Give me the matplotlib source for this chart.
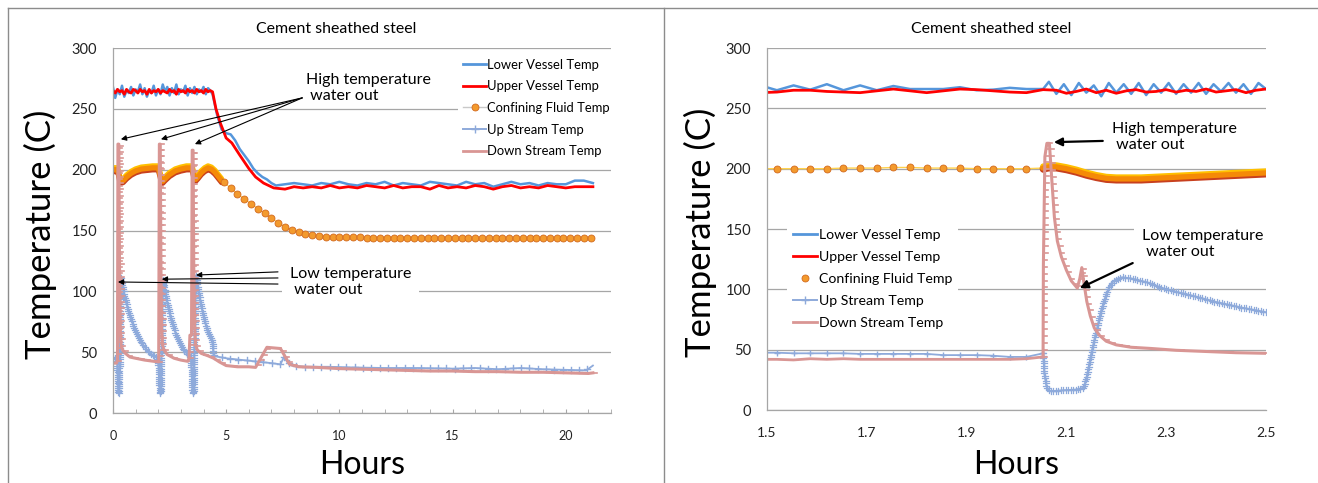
import numpy as np
import matplotlib.pyplot as plt
import matplotlib.patheffects as pe
from matplotlib.lines import Line2D
from matplotlib.markers import MarkerStyle
from matplotlib.path import Path
from matplotlib.ticker import MultipleLocator
from matplotlib.transforms import IdentityTransform

plt.rcParams['font.family'] = ['Lato', 'DejaVu Sans']

TITLE = "Cement sheathed steel"
LABELS = ["Lower Vessel Temp", "Upper Vessel Temp", "Confining Fluid Temp",
          "Up Stream Temp", "Down Stream Temp"]

C_LV = '#5596DB'
C_UV = '#FF0000'
C_CF = '#F39A2D'
C_US = '#8EAADB'
C_DS = '#D99694'
C_GRID = '#A6A6A6'


def on_grid(start, step, temps):
    return start + step * np.arange(len(temps))


# ---------------- whole run, 0-21 h ----------------
# vessel temps logged every 0.1 h while held near 265 C
lv_hold = [268, 259, 266, 262, 269, 260, 265, 263, 268, 261,
           266, 264, 270, 262, 267, 260, 265, 263, 269, 261,
           266, 262, 270, 264, 268, 261, 267, 263, 270, 262,
           266, 264, 269, 261, 267, 263, 268, 262, 266, 264,
           268, 262, 267, 265]
uv_hold = [265, 263, 266, 264, 265, 262, 266, 264, 263, 266,
           265, 263, 266, 264, 265, 262, 266, 263, 265, 264,
           266, 263, 265, 264, 263, 266, 264, 265, 262, 266,
           264, 265, 263, 266, 264, 265, 263, 266, 264, 265,
           263, 266, 264, 265]

# cool-down of the vessel
lv_cool_h = [4.4, 4.6, 4.8, 5.0, 5.2, 5.4, 5.6, 5.8, 6.0, 6.2, 6.4, 6.6, 6.8, 7.0, 7.2]
lv_cool_t = [262, 245, 233, 230, 229, 224, 217, 212, 207, 201, 197, 194, 192, 189, 187]
uv_cool_h = [4.4, 4.55, 4.75, 5.0, 5.25, 5.6, 6.0, 6.3, 6.65, 7.1]
uv_cool_t = [264, 250, 238, 226, 222, 212, 201, 194, 189, 185]

# settled vessel temps, every 0.4 h from 7.6 h
lv_tail = [188, 189, 188, 187, 189, 188, 190, 188, 187, 189, 188, 190, 187, 189, 188,
           187, 190, 189, 188, 187, 190, 188, 189, 186, 188, 190, 188, 189, 187, 189,
           188, 188, 191, 191, 189]
uv_tail = [184, 186, 185, 186, 185, 187, 185, 186, 185, 187, 186, 185, 187, 185, 186,
           186, 184, 187, 185, 186, 185, 187, 186, 184, 186, 187, 185, 186, 185, 187,
           186, 185, 186, 186, 186]

# confining fluid: fast logging during the three flushes, then every 0.3 h
cf_fast_h = [0.0, 0.1, 0.2, 0.25, 0.3, 0.35, 0.45, 0.6, 0.8, 1.0, 1.25, 1.5, 1.75, 2.0,
             2.08, 2.14, 2.2, 2.3, 2.5, 2.75, 3.0, 3.25, 3.5, 3.55, 3.6, 3.65, 3.75, 3.9,
             4.05, 4.2, 4.35, 4.5, 4.65, 4.8]
cf_fast_t = [200, 200, 200, 197, 192, 190.5, 191, 194, 197, 199, 200.5, 201, 201.5, 201.5,
             196, 191, 190.5, 192.5, 196, 199, 200.5, 201.5, 201.5, 197, 193, 192, 194, 197.5,
             200, 201.5, 200.5, 198, 194.5, 191]
cf_slow = [189.5, 185, 180, 176, 172, 168, 164, 160, 156.5, 153, 150.5, 148.5, 147, 146,
           145.5, 145, 145, 144.5, 144.5, 144.5, 144.5, 144, 144, 144, 144, 144, 144, 144,
           144, 144, 144, 144, 143.5, 144, 143.5, 143.5, 143.5, 143.5, 143.5, 143.5, 143.5,
           143.5, 143.5, 143.5, 143.5, 143.5, 143.5, 143.5, 143.5, 143.5, 143.5, 143.5,
           143.5, 143.5, 143.5]

us_h = [0.0, 0.1, 0.18, 0.21, 0.24, 0.27, 0.3, 0.33, 0.38, 0.5,
        0.65, 0.8, 1.0, 1.2, 1.4, 1.6, 1.8, 1.97, 2.0, 2.03,
        2.07, 2.11, 2.15, 2.2, 2.3, 2.45, 2.6, 2.8, 3.0, 3.2,
        3.4, 3.45, 3.48, 3.52, 3.56, 3.6, 3.66, 3.75, 3.9, 4.05,
        4.2, 4.38, 4.45, 4.7, 5.0, 5.5, 6.0, 6.5, 7.0, 7.4,
        7.55, 7.7, 7.9, 8.5, 9.5, 10.5, 12.0, 13.5, 15.0, 16.0,
        17.0, 18.0, 19.0, 20.0, 20.9, 21.05, 21.2]
us_t = [44, 45, 46, 30, 17, 16, 50, 112, 108, 97,
        86, 77, 67, 60, 54, 50, 47, 45, 44, 30,
        16, 17, 55, 110, 99, 86, 75, 64, 56, 50,
        47, 46, 30, 16, 17, 60, 113, 103, 88, 76,
        66, 61, 47, 46, 45, 44, 43, 42, 41, 40,
        46, 42, 39, 38, 38, 37.5, 37, 37, 36.5, 37,
        36, 37, 36, 35.5, 35, 37, 39]

ds_h = [0.0, 0.15, 0.2, 0.22, 0.26, 0.29, 0.32, 0.36, 0.42, 0.55,
        0.75, 1.0, 1.4, 1.8, 2.02, 2.05, 2.09, 2.12, 2.15, 2.19,
        2.25, 2.4, 2.7, 3.0, 3.3, 3.36, 3.4, 3.47, 3.5, 3.54,
        3.57, 3.61, 3.65, 3.72, 3.9, 4.2, 4.45, 4.7, 5.0, 5.5,
        6.0, 6.3, 6.8, 7.4, 7.8, 8.2, 9.0, 10.0, 11.0, 12.0,
        13.0, 14.0, 15.0, 16.0, 17.0, 18.0, 19.0, 20.0, 21.0, 21.2]
ds_t = [41, 41, 43, 221, 221, 120, 70, 56, 52, 49,
        46, 45, 43.5, 42.5, 42, 221, 221, 120, 70, 56,
        52, 48, 45, 43.5, 42.5, 45, 64, 64, 216, 216,
        120, 70, 56, 52, 49, 47, 45, 42, 39, 38,
        38, 37.5, 54, 53, 40, 38, 37.5, 36.5, 36, 35.5,
        35, 34.5, 34.5, 34, 34, 33.5, 33.5, 33, 32.5, 33]

# ---------------- close-up of the second flush, 1.5-2.5 h ----------------
# 2-minute logging up to the flush
slow_start, slow_step = 1.4867, 1 / 30
lv_r_slow = [269, 265, 269, 265.5, 270, 265, 269, 265, 268.5, 266, 266, 266, 267.5, 265,
             265.5, 267, 266, 266]
uv_r_slow = [263, 263.5, 265, 265, 264, 263.5, 263, 264.5, 266, 264.5, 263, 264.5, 266,
             265.5, 264.5, 263.5, 263, 265.5]
cf_r_slow = [200, 200, 200, 200, 200, 200.5, 200.5, 200.5, 201, 201, 200.5, 200.5, 200.5,
             200, 200, 200, 200, 200.5]
us_r_slow = [47.5, 47.5, 47, 47, 47, 47, 46.5, 46.5, 46.5, 46.5, 46.5, 45.5, 45.5, 45.5,
             45, 44, 44, 47]
ds_r_slow = [42, 42, 41.5, 42.5, 42, 42.5, 42, 42, 42, 42, 42, 42, 42, 42, 42, 42, 42.5, 44]

# fast logging after the flush
lv_r_fast = [272, 262, 270, 261, 271, 263, 269, 260, 271, 263, 270, 262, 271, 261, 270,
             263, 271, 262, 270, 263, 271, 262, 270, 264, 271, 263, 270, 262, 271, 266]
uv_r_fast = [265, 262.5, 264, 266, 263, 265, 262.5, 264.5, 265.5, 263.5, 264, 265.5,
             263.5, 265, 264, 266, 263.5, 264.5, 265.5, 263, 265, 266]
cf_r_fast_h = [2.053, 2.065, 2.08, 2.1, 2.12, 2.14, 2.16, 2.18, 2.2, 2.22, 2.25, 2.3,
               2.35, 2.4, 2.45, 2.5]
cf_r_fast_t = [200.5, 201.5, 201.5, 200, 198, 195.5, 193.5, 192, 191.5, 191.5, 191.5,
               192.5, 193.5, 194.5, 195.5, 196.5]
us_r_fast_h = [2.056, 2.06, 2.065, 2.07, 2.08, 2.1, 2.12, 2.135, 2.142, 2.15, 2.16, 2.17,
               2.18, 2.19, 2.2, 2.212, 2.23, 2.26, 2.3, 2.35, 2.4, 2.45, 2.5]
us_r_fast_t = [30, 20, 16, 15.5, 16, 16.5, 17, 18.5, 30, 47, 65, 83,
               96, 105, 108.5, 110, 109, 106, 100, 95, 89.5, 85, 81]
ds_r_fast_h = [2.054, 2.057, 2.061, 2.066, 2.071, 2.076, 2.082, 2.09, 2.1, 2.11, 2.122,
               2.127, 2.131, 2.135, 2.141, 2.148, 2.156, 2.166, 2.18, 2.2, 2.23, 2.27,
               2.32, 2.38, 2.44, 2.5]
ds_r_fast_t = [120, 210, 221, 221, 190, 160, 140, 127, 116, 107, 101,
               109, 118, 106, 90, 78, 68, 62, 57, 54, 52, 51,
               49.5, 48.5, 47.5, 47]


class MarkersAlong(pe.AbstractPathEffect):
    """Draw the line, then repeat a marker every `spacing` points along it."""

    def __init__(self, marker, spacing, size, color, lw=1.0):
        super().__init__()
        self.marker = MarkerStyle(marker)
        self.spacing = spacing
        self.size = size
        self.color = color
        self.lw = lw

    def draw_path(self, renderer, gc, tpath, affine, rgbFace=None):
        renderer.draw_path(gc, tpath, affine, rgbFace)
        xy = affine.transform(tpath.vertices)
        dist = np.r_[0, np.cumsum(np.hypot(*np.diff(xy, axis=0).T))]
        s = np.arange(0, dist[-1], renderer.points_to_pixels(self.spacing))
        pts = np.c_[np.interp(s, dist, xy[:, 0]), np.interp(s, dist, xy[:, 1])]
        gc0 = renderer.new_gc()
        gc0.copy_properties(gc)
        gc0.set_foreground(self.color)
        gc0.set_linewidth(self.lw)
        mtrans = self.marker.get_transform().frozen().scale(
            renderer.points_to_pixels(self.size))
        renderer.draw_markers(gc0, self.marker.get_path(), mtrans, Path(pts),
                              IdentityTransform())
        gc0.restore()


# short dash sticking out to the right of the line
DASH = Path([[0, 0], [1, 0]])

band_fx = [pe.Stroke(linewidth=3.8, foreground='#FFC000', offset=(0, 1.4)),
           pe.Stroke(linewidth=3.8, foreground='#C8401E', offset=(0, -1.4)),
           pe.Normal()]
dot_style = dict(marker='o', ms=5, mfc=C_CF, mec='#D2691E', mew=0.6)
up_style = dict(color=C_US, lw=1.3)
down_style = dict(color=C_DS, lw=2.2)


def split_at(hours, temps, cut):
    # two overlapping pieces so each can get its own marker spacing
    h, t = np.asarray(hours), np.asarray(temps)
    i = np.searchsorted(h, cut)
    return (h[:i + 1], t[:i + 1]), (h[i:], t[i:])


def style_axes(ax, xlim, xticks, xtick_size):
    ax.set_xlim(*xlim)
    ax.set_ylim(0, 300)
    ax.set_xticks(xticks)
    ax.set_yticks(range(0, 301, 50))
    ax.grid(axis='y', color=C_GRID, lw=0.9)
    ax.set_axisbelow(True)
    for side in ('top', 'right'):
        ax.spines[side].set_visible(False)
    for side in ('left', 'bottom'):
        ax.spines[side].set_color(C_GRID)
        ax.spines[side].set_linewidth(0.9)
    ax.tick_params(axis='y', length=0, pad=11.5, labelsize=10.5, labelcolor='#222222')
    ax.tick_params(axis='x', labelsize=xtick_size, labelcolor='#222222', pad=12)
    ax.set_title(TITLE, fontsize=11.4, x=0.449, pad=11)
    ax.set_xlabel('Hours', fontsize=23)
    ax.set_ylabel('Temperature (C)', fontsize=25)


def legend_handles(cf_line):
    cf = Line2D([], [], color='#C9C9C9' if cf_line else 'none', lw=1, **dot_style)
    return [Line2D([], [], color=C_LV, lw=2),
            Line2D([], [], color=C_UV, lw=2),
            cf,
            Line2D([], [], color=C_US, lw=1.4, marker='+', ms=6, mew=1),
            Line2D([], [], color=C_DS, lw=2)]


def add_legend(ax, cf_line, anchor, size, spacing):
    ax.legend(legend_handles(cf_line), LABELS, loc='upper left', bbox_to_anchor=anchor,
              borderaxespad=0, borderpad=0.4, fontsize=size, handlelength=1.75,
              handletextpad=0.1, labelspacing=spacing, numpoints=1, frameon=True,
              facecolor='white', edgecolor='none', framealpha=1, fancybox=False)


fig = plt.figure(figsize=(13.18, 4.83), dpi=100)
ax1 = fig.add_axes([0.0857, 0.1449, 0.3779, 0.7557])
ax2 = fig.add_axes([0.5819, 0.1511, 0.3786, 0.7495])

# ---- left: whole run ----
lv_h = np.r_[on_grid(0.0, 0.1, lv_hold), lv_cool_h, on_grid(7.6, 0.4, lv_tail)]
lv_t = np.r_[lv_hold, lv_cool_t, lv_tail]
uv_h = np.r_[on_grid(0.0, 0.1, uv_hold), uv_cool_h, on_grid(7.6, 0.4, uv_tail)]
uv_t = np.r_[uv_hold, uv_cool_t, uv_tail]
cf_slow_h = on_grid(4.9, 0.3, cf_slow)

ax1.plot(lv_h, lv_t, color=C_LV, lw=1.8)
ax1.plot(uv_h, uv_t, color=C_UV, lw=2)
ax1.plot(cf_fast_h, cf_fast_t, color='#F58A07', lw=3.8, solid_capstyle='round',
         path_effects=band_fx)
ax1.plot(np.r_[cf_fast_h[-1], cf_slow_h], np.r_[cf_fast_t[-1], cf_slow],
         color='#FFD24D', lw=0.8, markevery=slice(1, None), **dot_style)

(us_a, us_b) = split_at(us_h, us_t, 4.45)
ax1.plot(*us_a, path_effects=[MarkersAlong('+', 1.6, 4.5, C_US, 0.9)], **up_style)
ax1.plot(*us_b, path_effects=[MarkersAlong('+', 6.0, 5.0, C_US, 1.0)], **up_style)
ax1.plot(ds_h, ds_t, path_effects=[MarkersAlong(DASH, 4.5, 5.5, C_DS, 1.2)], **down_style)

style_axes(ax1, (0, 22), range(0, 21, 5), 9)
ax1.xaxis.set_minor_locator(MultipleLocator(1))
ax1.tick_params(axis='x', which='both', direction='in', length=3, color=C_GRID)
ax1.yaxis.set_label_coords(-0.112, 0.49)
ax1.xaxis.set_label_coords(0.5, -0.101)
add_legend(ax1, True, (0.693, 0.985), 9.4, 0.74)

thin_arrow = dict(arrowstyle='-|>', color='black', lw=0.8, mutation_scale=8,
                  shrinkA=0, shrinkB=0)
ax1.text(8.53, 267, 'High temperature\n water out', fontsize=11.5, ha='left',
         va='center', linespacing=1.15)
for head in [(0.35, 225), (2.12, 225), (3.62, 221)]:
    ax1.annotate('', xy=head, xytext=(8.36, 259), arrowprops=thin_arrow)
ax1.text(7.82, 107.7, 'Low temperature\n water out', fontsize=11.5, ha='left',
         va='center', linespacing=1.15, zorder=4,
         bbox=dict(boxstyle='square,pad=0.5', fc='white', ec='none'))
for tail, head in [((7.29, 116), (3.67, 113.4)), ((7.29, 111), (2.16, 110)),
                   ((7.29, 106), (0.22, 107.7))]:
    ax1.annotate('', xy=head, xytext=tail, arrowprops=thin_arrow, zorder=5)

# ---- right: close-up ----
slow_h = on_grid(slow_start, slow_step, lv_r_slow)
lv_r_h = np.r_[slow_h, on_grid(2.065, 0.015, lv_r_fast)]
uv_r_h = np.r_[slow_h, on_grid(2.08, 0.02, uv_r_fast)]

ax2.plot(lv_r_h, np.r_[lv_r_slow, lv_r_fast], color=C_LV, lw=1.8)
ax2.plot(uv_r_h, np.r_[uv_r_slow, uv_r_fast], color=C_UV, lw=2)
ax2.plot(slow_h, cf_r_slow, color='#FFD24D', lw=1, **dot_style)
ax2.plot(cf_r_fast_h, cf_r_fast_t, color='#F58A07', lw=3.8, solid_capstyle='round',
         path_effects=band_fx)
ax2.plot(slow_h, us_r_slow, marker='+', ms=5, mew=1, **up_style)
ax2.plot(np.r_[slow_h[-1], us_r_fast_h], np.r_[us_r_slow[-1], us_r_fast_t],
         path_effects=[MarkersAlong('+', 1.8, 4.5, C_US, 0.9)], **up_style)
ax2.plot(slow_h, ds_r_slow, color=C_DS, lw=2)
ax2.plot(np.r_[slow_h[-1], ds_r_fast_h], np.r_[ds_r_slow[-1], ds_r_fast_t],
         path_effects=[MarkersAlong(DASH, 5.0, 5.5, C_DS, 1.2)], **down_style)

style_axes(ax2, (1.5, 2.5), [1.5, 1.7, 1.9, 2.1, 2.3, 2.5], 10)
ax2.set_xticklabels(['1.5', '1.7', '1.9', '2.1', '2.3', '2.5'])
ax2.tick_params(axis='x', length=0)
ax2.yaxis.set_label_coords(-0.100, 0.49)
ax2.xaxis.set_label_coords(0.499, -0.110)
add_legend(ax2, False, (0.040, 0.5165), 10.2, 0.71)

bold_arrow = dict(arrowstyle='-|>', color='black', lw=1.6, mutation_scale=12,
                  shrinkA=0, shrinkB=0)
ax2.text(2.191, 226, 'High temperature\n water out', fontsize=11.5, ha='left',
         va='center', linespacing=1.15)
ax2.annotate('', xy=(2.075, 222), xytext=(2.173, 223), arrowprops=bold_arrow)
ax2.text(2.251, 137.6, 'Low temperature\n water out', fontsize=11.5, ha='left',
         va='center', linespacing=1.15, zorder=4,
         bbox=dict(boxstyle='square,pad=0.5', fc='white', ec='none'))
ax2.annotate('', xy=(2.127, 101), xytext=(2.233, 121.8), arrowprops=bold_arrow, zorder=5)

# chart frames
frame = dict(color='#8C8C8C', lw=1, transform=fig.transFigure)
fig.add_artist(Line2D([0.00607, 1.0], [0.9834, 0.9834], **frame))
fig.add_artist(Line2D([0.00607, 0.00607], [0.0, 0.9834], **frame))
fig.add_artist(Line2D([0.5038, 0.5038], [0.0, 0.9834], **frame))

fig.savefig('out.png', dpi=100)
